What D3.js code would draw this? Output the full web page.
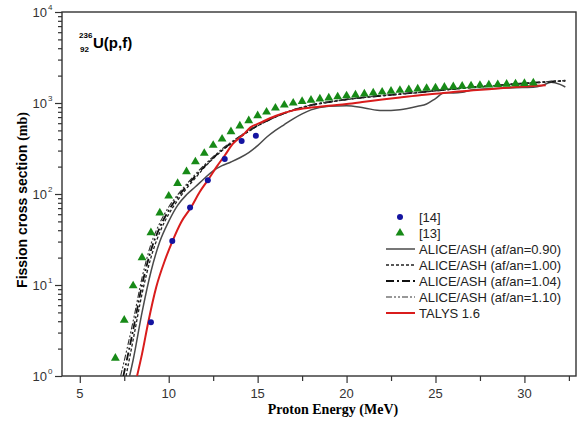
<!DOCTYPE html>
<html>
<head>
<meta charset="utf-8">
<script src="https://cdn.jsdelivr.net/npm/d3@7"></script>
<style>
  body { margin: 0; background: #fff; }
  text { font-family: Arial, "Liberation Sans", sans-serif; }
</style>
</head>
<body>
<script>
// measured data, [14] and [13]
let e14 = [9.0, 10.2, 11.2, 12.2, 13.15, 14.1, 14.9]
let s14 = [3.9, 30.5, 71, 142, 242, 382, 437]

let e13 = [7, 7.5, 8, 8.5, 9, 9.5, 10, 10.5, 11, 11.5, 12, 12.5, 13, 13.5, 14, 14.5, 15, 15.5, 16, 16.5,
  17, 17.5, 18, 18.5, 19, 19.5, 20, 20.5, 21, 21.5, 22, 22.5, 23, 23.5, 24, 24.5, 25, 25.5, 26, 26.5,
  27, 27.5, 28, 28.5, 29, 29.5, 30, 30.5]
let s13 = [1.57, 4.1, 9.8, 20, 37.6, 62, 95, 131, 176, 226, 280, 343, 402, 484, 559, 639, 725, 795, 880, 950,
  1000, 1040, 1075, 1110, 1140, 1170, 1200, 1230, 1260, 1290, 1320, 1350, 1380, 1405, 1430, 1450, 1470, 1490, 1510, 1530,
  1545, 1565, 1580, 1595, 1610, 1625, 1640, 1660]

// ALICE/ASH af/an = 0.90
let e090 = [7.8, 8, 8.5, 9, 9.5, 10, 10.5, 11, 11.5, 12, 12.5, 13, 13.5, 14, 14.5, 15, 15.5, 16, 16.5, 17,
  17.5, 18, 19, 20, 21, 22, 23, 24, 24.5, 25, 25.5, 26, 26.5, 27, 28, 29, 30, 30.5, 31, 31.5, 32, 32.3]
let s090 = [1, 1.5, 5, 14, 30, 50, 75, 98, 120, 148, 180, 205, 225, 250, 285, 340, 420, 500, 580, 670,
  760, 840, 920, 935, 880, 825, 845, 920, 975, 1120, 1300, 1290, 1310, 1390, 1430, 1460, 1480, 1490, 1560, 1690, 1600, 1500]

// ALICE/ASH af/an = 1.00, 1.04, 1.10 (same energies, own start point)
let eAlice = [8, 8.5, 9, 9.5, 10, 10.5, 11, 11.5, 12, 13, 14, 15, 16, 17, 18, 19, 20, 21, 22, 23,
  24, 25, 26, 27, 28, 29, 30, 31, 32, 32.3]
let s100 = [2.5, 8, 20, 38, 60, 85, 115, 150, 195, 300, 420, 560, 700, 830, 940, 1020, 1090, 1150, 1200, 1250,
  1300, 1360, 1420, 1480, 1530, 1590, 1640, 1690, 1740, 1750]
let s104 = [3.2, 10, 24, 43, 66, 92, 122, 158, 200, 305, 425, 565, 705, 835, 945, 1025, 1095, 1155, 1205, 1255,
  1305, 1365, 1425, 1485, 1535, 1595, 1645, 1695, 1745, 1760]
let s110 = [4, 12, 28, 48, 72, 98, 128, 165, 208, 312, 432, 572, 712, 842, 952, 1030, 1100, 1160, 1210, 1260,
  1310, 1370, 1430, 1490, 1540, 1600, 1650, 1700, 1750, 1765]
let start100 = [7.6, 1]
let start104 = [7.45, 1]
let start110 = [7.3, 1]

// TALYS 1.6
let eT = [8.22, 8.5, 8.85, 9.3, 9.8, 10.2, 10.7, 11.25, 11.75, 12.2, 12.7, 13.15, 13.6, 14.2, 14.6, 15.1,
  16, 17, 18, 19, 20, 21, 22, 23, 24, 25, 26, 27, 28, 29, 30, 31.2]
let sT = [1, 1.75, 3.9, 9.5, 19, 30, 49, 71, 106, 142, 200, 265, 355, 450, 540, 600,
  720, 830, 890, 935, 975, 1030, 1090, 1150, 1210, 1260, 1320, 1370, 1420, 1470, 1520, 1570]

let xTicks = [5, 10, 15, 20, 25, 30]
let xMinor = [7.5, 12.5, 17.5, 22.5, 27.5, 32.5]
let yExps = [0, 1, 2, 3, 4]

let legendLabels = ['[14]', '[13]', 'ALICE/ASH (af/an=0.90)', 'ALICE/ASH (af/an=1.00)',
  'ALICE/ASH (af/an=1.04)', 'ALICE/ASH (af/an=1.10)', 'TALYS 1.6']

let width = 588
let height = 426
let pLeft = 62, pRight = 576, pTop = 12, pBottom = 376

let svg = d3.select('body')
  .append('svg')
  .attr('width', width)
  .attr('height', height)

let x = d3.scaleLinear().domain([4, 32.9]).range([pLeft, pRight])
let y = d3.scaleLog().domain([1, 10000]).range([pBottom, pTop])

svg.append('clipPath').attr('id', 'plot')
  .append('rect').attr('x', pLeft).attr('y', pTop).attr('width', pRight - pLeft).attr('height', pBottom - pTop)

// axes
let minorY = []
yExps.slice(0, 4).forEach(p => { for (let k = 2; k <= 9; k++) minorY.push(k * Math.pow(10, p)) })

let yAxis = svg.append('g').attr('transform', `translate(${pLeft},0)`)
  .call(d3.axisLeft(y).tickValues(yExps.map(p => Math.pow(10, p))).tickSize(7).tickFormat(''))
yAxis.append('g').call(d3.axisLeft(y).tickValues(minorY).tickSize(4).tickFormat(''))
yAxis.selectAll('.domain').remove()

let xAxis = svg.append('g').attr('transform', `translate(0,${pBottom})`)
  .call(d3.axisBottom(x).tickValues(xTicks).tickSize(7).tickFormat(''))
xAxis.append('g').call(d3.axisBottom(x).tickValues(xMinor).tickSize(5).tickFormat(''))
xAxis.selectAll('.domain').remove()
svg.selectAll('.tick line').attr('stroke', '#333').attr('stroke-width', 1.2)

svg.append('rect')
  .attr('x', pLeft).attr('y', pTop).attr('width', pRight - pLeft).attr('height', pBottom - pTop)
  .attr('fill', 'none').attr('stroke', '#333').attr('stroke-width', 1.4)

xTicks.forEach(t => {
  svg.append('text').attr('x', x(t)).attr('y', 398).attr('text-anchor', 'middle')
    .attr('font-size', 13).attr('fill', '#333').text(t)
})

yExps.forEach(p => {
  svg.append('text').attr('x', 47).attr('y', y(Math.pow(10, p)) + 5)
    .attr('text-anchor', 'end').attr('font-size', 13).attr('fill', '#333').text('10')
  svg.append('text').attr('x', 48).attr('y', y(Math.pow(10, p)) - 2)
    .attr('font-size', 8).attr('fill', '#333').text(p)
})

svg.append('text').attr('x', 333).attr('y', 414).attr('text-anchor', 'middle')
  .attr('font-size', 14).attr('font-weight', 'bold')
  .style('font-family', '"Liberation Serif", "Times New Roman", serif')
  .text('Proton Energy (MeV)')

let yTitle = svg.append('text')
  .attr('transform', 'translate(27,200) rotate(-90)')
  .attr('text-anchor', 'middle').attr('font-size', 14).attr('font-weight', 'bold')
yTitle.append('tspan').text('Fission cross section ')
yTitle.append('tspan').style('font-family', '"Liberation Serif", "Times New Roman", serif').text('(mb)')

// reaction label
svg.append('text').attr('x', 79).attr('y', 38).attr('font-size', 8).attr('font-weight', 'bold').text('236')
svg.append('text').attr('x', 80).attr('y', 52).attr('font-size', 8).attr('font-weight', 'bold').text('92')
svg.append('text').attr('x', 93).attr('y', 48).attr('font-size', 15).attr('font-weight', 'bold').text('U(p,f)')

// curves
let line = d3.line().x(d => x(d[0])).y(d => y(d[1])).curve(d3.curveMonotoneX)
let zip = (es, ss) => es.map((e, i) => [e, ss[i]])

let styles = [
  { data: zip(e090, s090), color: '#4a4a4a', w: 1.5, dash: null },
  { data: [start100].concat(zip(eAlice, s100)), color: '#222', w: 1.3, dash: '3,2' },
  { data: [start104].concat(zip(eAlice, s104)), color: '#111', w: 1.8, dash: '8,3,2,3' },
  { data: [start110].concat(zip(eAlice, s110)), color: '#333', w: 1.1, dash: '6,2,2,2,2,2' },
  { data: zip(eT, sT), color: '#d91c1c', w: 2, dash: null }
]

let curves = svg.append('g').attr('clip-path', 'url(#plot)')
styles.forEach(s => {
  curves.append('path').datum(s.data)
    .attr('d', line)
    .attr('fill', 'none')
    .attr('stroke', s.color)
    .attr('stroke-width', s.w)
    .attr('stroke-dasharray', s.dash)
})

let tri = d3.symbol().type(d3.symbolTriangle).size(34)
curves.selectAll('.tri').data(zip(e13, s13)).enter()
  .append('path')
  .attr('class', 'tri')
  .attr('d', tri)
  .attr('transform', d => `translate(${x(d[0])},${y(d[1])})`)
  .attr('fill', '#178a17')

curves.selectAll('.dot').data(zip(e14, s14)).enter()
  .append('circle')
  .attr('class', 'dot')
  .attr('cx', d => x(d[0]))
  .attr('cy', d => y(d[1]))
  .attr('r', 3)
  .attr('fill', '#1414a0')

// legend
let lg = svg.append('g')
legendLabels.forEach((label, i) => {
  let ly = 217 + i * 16
  if (i === 0) {
    lg.append('circle').attr('cx', 400).attr('cy', ly).attr('r', 3).attr('fill', '#1414a0')
  } else if (i === 1) {
    lg.append('path').attr('d', tri).attr('transform', `translate(400,${ly})`).attr('fill', '#178a17')
  } else {
    let s = styles[i - 2]
    lg.append('line').attr('x1', 386).attr('x2', 415).attr('y1', ly).attr('y2', ly)
      .attr('stroke', s.color).attr('stroke-width', s.w).attr('stroke-dasharray', s.dash)
  }
  lg.append('text').attr('x', 419).attr('y', ly + 4.5).attr('font-size', 13).attr('fill', '#222').text(label)
})
</script>
</body>
</html>
